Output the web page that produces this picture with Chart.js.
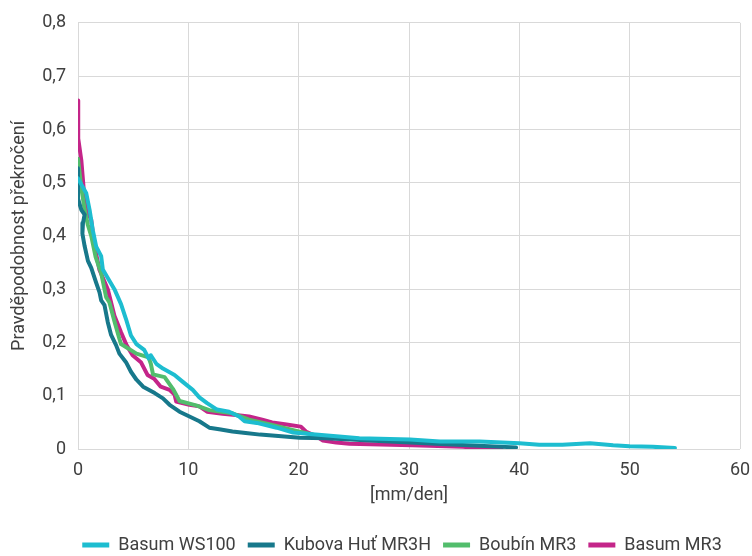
<!DOCTYPE html>
<html>
<head>
<meta charset="utf-8">
<script src="https://cdn.jsdelivr.net/npm/chart.js@4/dist/chart.umd.min.js"></script>
<style>
html,body{margin:0;padding:0;background:#fff;}
#wrap{width:752px;height:556px;position:relative;}
</style>
</head>
<body>
<div id="wrap"><canvas id="c" width="752" height="556"></canvas></div>
<script>
const seriesNames = ['Basum WS100', 'Kubova Huť MR3H', 'Boubín MR3', 'Basum MR3'];
const seriesColors = ['#1dbdd0', '#17788b', '#52bd6c', '#c42589'];

const ws100X = [0, 0.75, 1.05, 1.35, 1.65, 2.1, 2.25, 2.7, 3.3, 3.9, 4.35, 4.8, 5.3, 6.0, 6.4, 6.6, 7.1, 7.7, 8.75, 9.5, 10.4, 11.0, 11.7, 12.6, 13.7, 14.6, 15.1, 16.2, 18.0, 19.5, 21.0, 23.4, 25.5, 30.1, 32.8, 36.4, 40.0, 41.8, 43.9, 46.4, 48.5, 50.0, 52.1, 54.1];
const ws100Y = [0.508, 0.48, 0.449, 0.41, 0.38, 0.362, 0.337, 0.321, 0.30, 0.272, 0.244, 0.213, 0.197, 0.186, 0.17, 0.176, 0.16, 0.151, 0.139, 0.126, 0.111, 0.097, 0.086, 0.074, 0.07, 0.061, 0.052, 0.049, 0.04, 0.031, 0.028, 0.024, 0.02, 0.018, 0.014, 0.014, 0.011, 0.008, 0.008, 0.011, 0.007, 0.005, 0.004, 0.002];

const kubovaX = [0, 0, 0.3, 0.6, 0.45, 0.4, 0.6, 0.9, 1.2, 1.65, 1.95, 2.1, 2.4, 2.7, 3.0, 3.45, 3.75, 4.35, 4.8, 5.3, 5.9, 6.95, 7.7, 8.3, 9.2, 10.1, 11.0, 11.9, 12.8, 14.0, 15.2, 16.5, 20.1, 22.5, 27.3, 33.4, 39.7];
const kubovaY = [0.527, 0.47, 0.449, 0.44, 0.424, 0.404, 0.381, 0.353, 0.34, 0.312, 0.294, 0.279, 0.27, 0.238, 0.214, 0.195, 0.179, 0.163, 0.145, 0.13, 0.117, 0.105, 0.095, 0.083, 0.07, 0.061, 0.052, 0.04, 0.037, 0.033, 0.03, 0.027, 0.021, 0.02, 0.015, 0.009, 0.003];

const boubinX = [0, 0.3, 0.6, 0.9, 1.2, 1.6, 2.1, 2.4, 2.55, 2.85, 3.3, 3.75, 3.9, 5.3, 6.4, 6.6, 6.8, 7.85, 8.6, 9.2, 10.7, 11.9, 14.0, 15.5, 17.4, 19.8, 20.4, 21.5];
const boubinY = [0.545, 0.49, 0.45, 0.42, 0.40, 0.36, 0.33, 0.30, 0.285, 0.275, 0.24, 0.207, 0.197, 0.179, 0.172, 0.16, 0.14, 0.135, 0.113, 0.09, 0.082, 0.073, 0.067, 0.055, 0.046, 0.034, 0.031, 0.026];

const mr3X = [0, 0.02, 0.3, 0.6, 0.9, 1.2, 1.35, 1.5, 1.95, 2.7, 3.3, 3.9, 4.4, 4.95, 5.7, 6.3, 6.9, 7.5, 8.3, 8.75, 8.9, 10.1, 11.0, 11.7, 13.1, 14.3, 15.5, 16.7, 17.6, 18.9, 20.2, 20.7, 21.6, 22.2, 23.4, 24.6, 30.3, 34.9, 38.4];
const mr3Y = [0.654, 0.583, 0.542, 0.467, 0.443, 0.43, 0.405, 0.38, 0.336, 0.30, 0.25, 0.219, 0.195, 0.176, 0.163, 0.139, 0.132, 0.117, 0.111, 0.102, 0.089, 0.083, 0.08, 0.07, 0.066, 0.064, 0.061, 0.055, 0.05, 0.046, 0.042, 0.032, 0.024, 0.016, 0.012, 0.01, 0.007, 0.004, 0.0];

const xTicks = [0, 10, 20, 30, 40, 50, 60];
const yTickLabels = ['0', '0,1', '0,2', '0,3', '0,4', '0,5', '0,6', '0,7', '0,8'];
const xTitle = '[mm/den]';
const yTitle = 'Pravděpodobnost překročení';

const xs = [ws100X, kubovaX, boubinX, mr3X];
const ys = [ws100Y, kubovaY, boubinY, mr3Y];

const datasets = seriesNames.map((name, i) => ({
  label: name,
  data: xs[i].map((x, j) => ({x: x, y: ys[i][j]})),
  borderColor: seriesColors[i],
  backgroundColor: seriesColors[i],
  borderWidth: 4,
  pointRadius: 0,
  tension: 0,
  fill: false,
  borderJoinStyle: 'round',
  borderCapStyle: 'round'
}));

const FONT = 'Roboto, "Open Sans", sans-serif';
const TXT = '#404040';

const legendShift = {
  id: 'legendShift',
  afterLayout(chart) {
    if (chart.legend) { chart.legend.left += 26; chart.legend.right += 26; }
  }
};

new Chart(document.getElementById('c'), {
  type: 'line',
  data: {datasets: datasets},
  plugins: [legendShift],
  options: {
    responsive: false,
    animation: false,
    devicePixelRatio: 1,
    layout: {padding: {top: 14, right: 0, bottom: -8, left: 0}},
    plugins: {
      legend: {
        position: 'bottom',
        labels: {
          font: {family: FONT, size: 18},
          color: TXT,
          boxWidth: 27,
          boxHeight: 5,
          padding: 12,
          generateLabels: (chart) => chart.data.datasets.map((d, i) => ({
            text: d.label,
            fillStyle: d.borderColor,
            strokeStyle: d.borderColor,
            lineWidth: 0,
            hidden: false,
            datasetIndex: i,
            fontColor: TXT
          }))
        }
      },
      tooltip: {enabled: false}
    },
    scales: {
      x: {
        type: 'linear',
        min: 0, max: 60,
        afterBuildTicks: (s) => { s.ticks = xTicks.map(v => ({value: v})); },
        afterFit: (s) => { s.height = 75; s.paddingRight = 12; },
        grid: {color: '#d9d9d9', lineWidth: 1, drawTicks: false},
        border: {display: false},
        ticks: {font: {family: FONT, size: 18}, color: TXT, padding: 11, maxRotation: 0},
        title: {display: true, text: xTitle, font: {family: FONT, size: 18}, color: TXT, padding: {top: 0, bottom: 18}}
      },
      y: {
        type: 'linear',
        min: 0, max: 0.8,
        afterBuildTicks: (s) => { s.ticks = yTickLabels.map((t, i) => ({value: i / 10})); },
        afterFit: (s) => { s.width = 78; },
        grid: {color: '#d9d9d9', lineWidth: 1, drawTicks: false},
        border: {display: false},
        ticks: {
          font: {family: FONT, size: 18}, color: TXT, padding: 12,
          callback: (v, i) => yTickLabels[i]
        },
        title: {display: true, text: yTitle, font: {family: FONT, size: 18}, color: TXT, padding: {top: 9, bottom: 0}}
      }
    }
  }
});
</script>
</body>
</html>
